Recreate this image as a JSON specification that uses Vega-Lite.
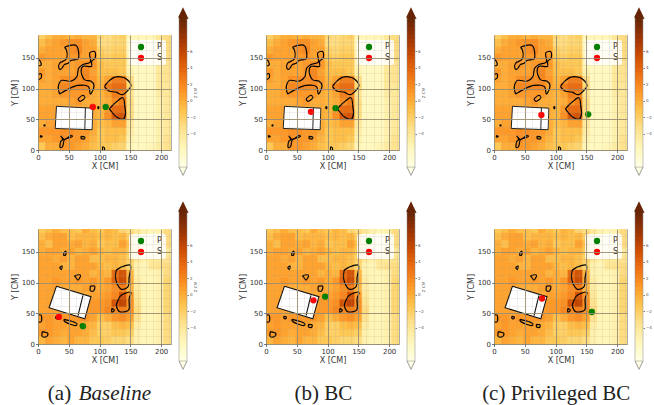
{"$schema":"https://vega.github.io/schema/vega-lite/v6.json","padding":{"left":10,"top":5,"right":0,"bottom":0},"background":"white","columns":6,"align":"each","bounds":"flush","spacing":{"row":79,"column":8},
"resolve":{"scale":{"x":"independent","y":"independent","fill":"independent","color":"independent"},"legend":{"color":"independent"}},
"config":{"view":{"stroke":null},"font":"DejaVu Sans","axis":{"labelFont":"DejaVu Sans","titleFont":"DejaVu Sans","labelFontSize":7,"titleFontSize":8,"titleFontWeight":"normal","labelColor":"#333","titleColor":"#333","domain":false,"tickSize":2.5,"tickColor":"#444","tickWidth":0.7,"labelPadding":1,"titlePadding":2,"labelOverlap":false,"labelBound":false,"labelFlush":false}},
"datasets":{
"heatT":[
{"x":6,"y":186,"z":-2},{"x":18,"y":186,"z":-1},{"x":30,"y":186,"z":0},{"x":42,"y":186,"z":0},{"x":54,"y":186,"z":-0.5},{"x":66,"y":186,"z":0},{"x":78,"y":186,"z":-0.5},{"x":90,"y":186,"z":-0.5},{"x":102,"y":186,"z":-2.5},{"x":114,"y":186,"z":-3},{"x":126,"y":186,"z":-2.5},{"x":138,"y":186,"z":-2},{"x":150,"y":186,"z":-5.5},{"x":162,"y":186,"z":-5.5},{"x":174,"y":186,"z":-5.5},{"x":186,"y":186,"z":-5.5},{"x":198,"y":186,"z":-4},{"x":210,"y":186,"z":-3},
{"x":6,"y":174,"z":-1},{"x":18,"y":174,"z":0},{"x":30,"y":174,"z":0.5},{"x":42,"y":174,"z":1},{"x":54,"y":174,"z":1.5},{"x":66,"y":174,"z":1.5},{"x":78,"y":174,"z":0.5},{"x":90,"y":174,"z":0},{"x":102,"y":174,"z":-3},{"x":114,"y":174,"z":-3},{"x":126,"y":174,"z":-2.5},{"x":138,"y":174,"z":-2.5},{"x":150,"y":174,"z":-6},{"x":162,"y":174,"z":-6},{"x":174,"y":174,"z":-6},{"x":186,"y":174,"z":-6},{"x":198,"y":174,"z":-4},{"x":210,"y":174,"z":-3},
{"x":6,"y":162,"z":0},{"x":18,"y":162,"z":0.5},{"x":30,"y":162,"z":0.5},{"x":42,"y":162,"z":0.5},{"x":54,"y":162,"z":1.5},{"x":66,"y":162,"z":2},{"x":78,"y":162,"z":0.5},{"x":90,"y":162,"z":0.5},{"x":102,"y":162,"z":-2},{"x":114,"y":162,"z":-2.5},{"x":126,"y":162,"z":-2},{"x":138,"y":162,"z":-2},{"x":150,"y":162,"z":-6},{"x":162,"y":162,"z":-6},{"x":174,"y":162,"z":-6},{"x":186,"y":162,"z":-6},{"x":198,"y":162,"z":-4},{"x":210,"y":162,"z":-3},
{"x":6,"y":150,"z":1},{"x":18,"y":150,"z":0.5},{"x":30,"y":150,"z":0.5},{"x":42,"y":150,"z":0.5},{"x":54,"y":150,"z":1},{"x":66,"y":150,"z":1},{"x":78,"y":150,"z":0.5},{"x":90,"y":150,"z":1},{"x":102,"y":150,"z":-1.5},{"x":114,"y":150,"z":-2},{"x":126,"y":150,"z":-1.5},{"x":138,"y":150,"z":-1.5},{"x":150,"y":150,"z":-5.5},{"x":162,"y":150,"z":-6},{"x":174,"y":150,"z":-6},{"x":186,"y":150,"z":-6},{"x":198,"y":150,"z":-4},{"x":210,"y":150,"z":-3},
{"x":6,"y":138,"z":0},{"x":18,"y":138,"z":0},{"x":30,"y":138,"z":0.5},{"x":42,"y":138,"z":1},{"x":54,"y":138,"z":0.5},{"x":66,"y":138,"z":1},{"x":78,"y":138,"z":1.5},{"x":90,"y":138,"z":1},{"x":102,"y":138,"z":-1},{"x":114,"y":138,"z":-1.5},{"x":126,"y":138,"z":-1.5},{"x":138,"y":138,"z":-1.5},{"x":150,"y":138,"z":-5.5},{"x":162,"y":138,"z":-6},{"x":174,"y":138,"z":-6},{"x":186,"y":138,"z":-6},{"x":198,"y":138,"z":-4},{"x":210,"y":138,"z":-3.5},
{"x":6,"y":126,"z":1},{"x":18,"y":126,"z":0},{"x":30,"y":126,"z":0.5},{"x":42,"y":126,"z":0.5},{"x":54,"y":126,"z":0.5},{"x":66,"y":126,"z":1},{"x":78,"y":126,"z":2},{"x":90,"y":126,"z":0.5},{"x":102,"y":126,"z":-1},{"x":114,"y":126,"z":-1},{"x":126,"y":126,"z":-1},{"x":138,"y":126,"z":-1.5},{"x":150,"y":126,"z":-5},{"x":162,"y":126,"z":-6},{"x":174,"y":126,"z":-6},{"x":186,"y":126,"z":-6},{"x":198,"y":126,"z":-4},{"x":210,"y":126,"z":-3.5},
{"x":6,"y":114,"z":0.5},{"x":18,"y":114,"z":0},{"x":30,"y":114,"z":0.5},{"x":42,"y":114,"z":1.5},{"x":54,"y":114,"z":1.5},{"x":66,"y":114,"z":1.5},{"x":78,"y":114,"z":2},{"x":90,"y":114,"z":1},{"x":102,"y":114,"z":-0.5},{"x":114,"y":114,"z":0.5},{"x":126,"y":114,"z":2.5},{"x":138,"y":114,"z":2.5},{"x":150,"y":114,"z":-3},{"x":162,"y":114,"z":-6},{"x":174,"y":114,"z":-6},{"x":186,"y":114,"z":-6},{"x":198,"y":114,"z":-4},{"x":210,"y":114,"z":-3.5},
{"x":6,"y":102,"z":0},{"x":18,"y":102,"z":0},{"x":30,"y":102,"z":0.5},{"x":42,"y":102,"z":2},{"x":54,"y":102,"z":2},{"x":66,"y":102,"z":2},{"x":78,"y":102,"z":2},{"x":90,"y":102,"z":0.5},{"x":102,"y":102,"z":0},{"x":114,"y":102,"z":2.5},{"x":126,"y":102,"z":3.5},{"x":138,"y":102,"z":3.5},{"x":150,"y":102,"z":-2.5},{"x":162,"y":102,"z":-6},{"x":174,"y":102,"z":-6},{"x":186,"y":102,"z":-6},{"x":198,"y":102,"z":-4},{"x":210,"y":102,"z":-4},
{"x":6,"y":90,"z":0},{"x":18,"y":90,"z":0},{"x":30,"y":90,"z":0.5},{"x":42,"y":90,"z":1},{"x":54,"y":90,"z":1},{"x":66,"y":90,"z":1},{"x":78,"y":90,"z":1},{"x":90,"y":90,"z":0},{"x":102,"y":90,"z":-0.5},{"x":114,"y":90,"z":0.5},{"x":126,"y":90,"z":2.5},{"x":138,"y":90,"z":2},{"x":150,"y":90,"z":-3.5},{"x":162,"y":90,"z":-6},{"x":174,"y":90,"z":-6},{"x":186,"y":90,"z":-6},{"x":198,"y":90,"z":-4.5},{"x":210,"y":90,"z":-4},
{"x":6,"y":78,"z":0},{"x":18,"y":78,"z":0},{"x":30,"y":78,"z":0},{"x":42,"y":78,"z":0},{"x":54,"y":78,"z":0.5},{"x":66,"y":78,"z":1},{"x":78,"y":78,"z":0},{"x":90,"y":78,"z":0},{"x":102,"y":78,"z":-0.5},{"x":114,"y":78,"z":0},{"x":126,"y":78,"z":1.5},{"x":138,"y":78,"z":2.5},{"x":150,"y":78,"z":-3},{"x":162,"y":78,"z":-6},{"x":174,"y":78,"z":-6},{"x":186,"y":78,"z":-6},{"x":198,"y":78,"z":-5},{"x":210,"y":78,"z":-4},
{"x":6,"y":66,"z":0.5},{"x":18,"y":66,"z":0.5},{"x":30,"y":66,"z":0.5},{"x":42,"y":66,"z":0},{"x":54,"y":66,"z":0},{"x":66,"y":66,"z":0},{"x":78,"y":66,"z":0},{"x":90,"y":66,"z":0},{"x":102,"y":66,"z":-0.5},{"x":114,"y":66,"z":1},{"x":126,"y":66,"z":3.5},{"x":138,"y":66,"z":3.5},{"x":150,"y":66,"z":-3},{"x":162,"y":66,"z":-6},{"x":174,"y":66,"z":-6},{"x":186,"y":66,"z":-6},{"x":198,"y":66,"z":-5},{"x":210,"y":66,"z":-4},
{"x":6,"y":54,"z":0.5},{"x":18,"y":54,"z":0.5},{"x":30,"y":54,"z":0.5},{"x":42,"y":54,"z":0},{"x":54,"y":54,"z":0},{"x":66,"y":54,"z":0},{"x":78,"y":54,"z":0},{"x":90,"y":54,"z":0},{"x":102,"y":54,"z":-0.5},{"x":114,"y":54,"z":1.5},{"x":126,"y":54,"z":4.5},{"x":138,"y":54,"z":5},{"x":150,"y":54,"z":-3},{"x":162,"y":54,"z":-6},{"x":174,"y":54,"z":-6},{"x":186,"y":54,"z":-6},{"x":198,"y":54,"z":-5},{"x":210,"y":54,"z":-4},
{"x":6,"y":42,"z":0},{"x":18,"y":42,"z":0.5},{"x":30,"y":42,"z":0.5},{"x":42,"y":42,"z":0},{"x":54,"y":42,"z":0},{"x":66,"y":42,"z":0.5},{"x":78,"y":42,"z":0.5},{"x":90,"y":42,"z":0},{"x":102,"y":42,"z":-1},{"x":114,"y":42,"z":-0.5},{"x":126,"y":42,"z":0.5},{"x":138,"y":42,"z":0.5},{"x":150,"y":42,"z":-4},{"x":162,"y":42,"z":-6},{"x":174,"y":42,"z":-6},{"x":186,"y":42,"z":-6},{"x":198,"y":42,"z":-5},{"x":210,"y":42,"z":-4},
{"x":6,"y":30,"z":1},{"x":18,"y":30,"z":1},{"x":30,"y":30,"z":1},{"x":42,"y":30,"z":1.5},{"x":54,"y":30,"z":1.5},{"x":66,"y":30,"z":1},{"x":78,"y":30,"z":1},{"x":90,"y":30,"z":0},{"x":102,"y":30,"z":-1.5},{"x":114,"y":30,"z":-1},{"x":126,"y":30,"z":-1},{"x":138,"y":30,"z":-1},{"x":150,"y":30,"z":-4.5},{"x":162,"y":30,"z":-6},{"x":174,"y":30,"z":-6},{"x":186,"y":30,"z":-6},{"x":198,"y":30,"z":-5},{"x":210,"y":30,"z":-4},
{"x":6,"y":18,"z":0.5},{"x":18,"y":18,"z":0.5},{"x":30,"y":18,"z":1},{"x":42,"y":18,"z":1.5},{"x":54,"y":18,"z":1},{"x":66,"y":18,"z":1},{"x":78,"y":18,"z":0.5},{"x":90,"y":18,"z":-0.5},{"x":102,"y":18,"z":-1.5},{"x":114,"y":18,"z":-1},{"x":126,"y":18,"z":-1},{"x":138,"y":18,"z":-1.5},{"x":150,"y":18,"z":-5},{"x":162,"y":18,"z":-6},{"x":174,"y":18,"z":-6},{"x":186,"y":18,"z":-6},{"x":198,"y":18,"z":-5},{"x":210,"y":18,"z":-3.5},
{"x":6,"y":6,"z":-1.5},{"x":18,"y":6,"z":0},{"x":30,"y":6,"z":0},{"x":42,"y":6,"z":1},{"x":54,"y":6,"z":1},{"x":66,"y":6,"z":0.5},{"x":78,"y":6,"z":0},{"x":90,"y":6,"z":-1},{"x":102,"y":6,"z":-1.5},{"x":114,"y":6,"z":-1.5},{"x":126,"y":6,"z":-2},{"x":138,"y":6,"z":-2.5},{"x":150,"y":6,"z":-5.5},{"x":162,"y":6,"z":-6},{"x":174,"y":6,"z":-6},{"x":186,"y":6,"z":-5.5},{"x":198,"y":6,"z":-4.5},{"x":210,"y":6,"z":-3.5}],
"heatB":[
{"x":6,"y":186,"z":-1.5},{"x":18,"y":186,"z":-1},{"x":30,"y":186,"z":0},{"x":42,"y":186,"z":-1},{"x":54,"y":186,"z":-1},{"x":66,"y":186,"z":-1.5},{"x":78,"y":186,"z":0},{"x":90,"y":186,"z":-1},{"x":102,"y":186,"z":-1.5},{"x":114,"y":186,"z":-0.5},{"x":126,"y":186,"z":-1},{"x":138,"y":186,"z":-2.5},{"x":150,"y":186,"z":-3},{"x":162,"y":186,"z":-4},{"x":174,"y":186,"z":-5},{"x":186,"y":186,"z":-5.5},{"x":198,"y":186,"z":-5},{"x":210,"y":186,"z":-3},
{"x":6,"y":174,"z":-1},{"x":18,"y":174,"z":0},{"x":30,"y":174,"z":0.5},{"x":42,"y":174,"z":0.5},{"x":54,"y":174,"z":-1},{"x":66,"y":174,"z":-0.5},{"x":78,"y":174,"z":-0.5},{"x":90,"y":174,"z":-0.5},{"x":102,"y":174,"z":-1},{"x":114,"y":174,"z":-0.5},{"x":126,"y":174,"z":-1},{"x":138,"y":174,"z":-0.5},{"x":150,"y":174,"z":-2},{"x":162,"y":174,"z":-4},{"x":174,"y":174,"z":-5},{"x":186,"y":174,"z":-6},{"x":198,"y":174,"z":-6},{"x":210,"y":174,"z":-3},
{"x":6,"y":162,"z":0},{"x":18,"y":162,"z":-1},{"x":30,"y":162,"z":0.5},{"x":42,"y":162,"z":0.5},{"x":54,"y":162,"z":0},{"x":66,"y":162,"z":0.5},{"x":78,"y":162,"z":-0.5},{"x":90,"y":162,"z":0},{"x":102,"y":162,"z":-1.5},{"x":114,"y":162,"z":-1},{"x":126,"y":162,"z":-1},{"x":138,"y":162,"z":0.5},{"x":150,"y":162,"z":-1},{"x":162,"y":162,"z":-4},{"x":174,"y":162,"z":-5},{"x":186,"y":162,"z":-6},{"x":198,"y":162,"z":-5.5},{"x":210,"y":162,"z":-3},
{"x":6,"y":150,"z":0},{"x":18,"y":150,"z":0.5},{"x":30,"y":150,"z":0.5},{"x":42,"y":150,"z":0},{"x":54,"y":150,"z":0.5},{"x":66,"y":150,"z":-0.5},{"x":78,"y":150,"z":0},{"x":90,"y":150,"z":0.5},{"x":102,"y":150,"z":-0.5},{"x":114,"y":150,"z":-1},{"x":126,"y":150,"z":-0.5},{"x":138,"y":150,"z":-0.5},{"x":150,"y":150,"z":-1.5},{"x":162,"y":150,"z":-3},{"x":174,"y":150,"z":-5},{"x":186,"y":150,"z":-6},{"x":198,"y":150,"z":-5.5},{"x":210,"y":150,"z":-4},
{"x":6,"y":138,"z":0.5},{"x":18,"y":138,"z":0.5},{"x":30,"y":138,"z":0},{"x":42,"y":138,"z":0.5},{"x":54,"y":138,"z":-0.5},{"x":66,"y":138,"z":0.5},{"x":78,"y":138,"z":0.5},{"x":90,"y":138,"z":-1},{"x":102,"y":138,"z":-1},{"x":114,"y":138,"z":-0.5},{"x":126,"y":138,"z":-0.5},{"x":138,"y":138,"z":-1},{"x":150,"y":138,"z":-2},{"x":162,"y":138,"z":-4},{"x":174,"y":138,"z":-5},{"x":186,"y":138,"z":-4},{"x":198,"y":138,"z":-4},{"x":210,"y":138,"z":-3.5},
{"x":6,"y":126,"z":0.5},{"x":18,"y":126,"z":0.5},{"x":30,"y":126,"z":0.5},{"x":42,"y":126,"z":-0.5},{"x":54,"y":126,"z":-0.5},{"x":66,"y":126,"z":0.5},{"x":78,"y":126,"z":0.5},{"x":90,"y":126,"z":0.5},{"x":102,"y":126,"z":-0.5},{"x":114,"y":126,"z":-1},{"x":126,"y":126,"z":-0.5},{"x":138,"y":126,"z":-1},{"x":150,"y":126,"z":-2.5},{"x":162,"y":126,"z":-5},{"x":174,"y":126,"z":-5.5},{"x":186,"y":126,"z":-4},{"x":198,"y":126,"z":-3.5},{"x":210,"y":126,"z":-3},
{"x":6,"y":114,"z":0.5},{"x":18,"y":114,"z":0.5},{"x":30,"y":114,"z":0.5},{"x":42,"y":114,"z":0.5},{"x":54,"y":114,"z":0.5},{"x":66,"y":114,"z":0.5},{"x":78,"y":114,"z":0.5},{"x":90,"y":114,"z":-0.5},{"x":102,"y":114,"z":0},{"x":114,"y":114,"z":-0.5},{"x":126,"y":114,"z":3.5},{"x":138,"y":114,"z":5},{"x":150,"y":114,"z":-0.5},{"x":162,"y":114,"z":-5},{"x":174,"y":114,"z":-5.5},{"x":186,"y":114,"z":-5.5},{"x":198,"y":114,"z":-5},{"x":210,"y":114,"z":-3},
{"x":6,"y":102,"z":0.5},{"x":18,"y":102,"z":0.5},{"x":30,"y":102,"z":1},{"x":42,"y":102,"z":0.5},{"x":54,"y":102,"z":0.5},{"x":66,"y":102,"z":1},{"x":78,"y":102,"z":0.5},{"x":90,"y":102,"z":1},{"x":102,"y":102,"z":0},{"x":114,"y":102,"z":1},{"x":126,"y":102,"z":4},{"x":138,"y":102,"z":5.5},{"x":150,"y":102,"z":0},{"x":162,"y":102,"z":-4.5},{"x":174,"y":102,"z":-5.5},{"x":186,"y":102,"z":-5.5},{"x":198,"y":102,"z":-5},{"x":210,"y":102,"z":-2.5},
{"x":6,"y":90,"z":0.5},{"x":18,"y":90,"z":0.5},{"x":30,"y":90,"z":0.5},{"x":42,"y":90,"z":0},{"x":54,"y":90,"z":0},{"x":66,"y":90,"z":0},{"x":78,"y":90,"z":0.5},{"x":90,"y":90,"z":0.5},{"x":102,"y":90,"z":0},{"x":114,"y":90,"z":0.5},{"x":126,"y":90,"z":1.5},{"x":138,"y":90,"z":2.5},{"x":150,"y":90,"z":-0.5},{"x":162,"y":90,"z":-4.5},{"x":174,"y":90,"z":-5.5},{"x":186,"y":90,"z":-5.5},{"x":198,"y":90,"z":-5},{"x":210,"y":90,"z":-2.5},
{"x":6,"y":78,"z":0.5},{"x":18,"y":78,"z":0.5},{"x":30,"y":78,"z":0},{"x":42,"y":78,"z":0},{"x":54,"y":78,"z":0},{"x":66,"y":78,"z":0},{"x":78,"y":78,"z":0},{"x":90,"y":78,"z":0.5},{"x":102,"y":78,"z":0.5},{"x":114,"y":78,"z":1},{"x":126,"y":78,"z":2},{"x":138,"y":78,"z":5},{"x":150,"y":78,"z":1},{"x":162,"y":78,"z":-4},{"x":174,"y":78,"z":-5.5},{"x":186,"y":78,"z":-5.5},{"x":198,"y":78,"z":-5},{"x":210,"y":78,"z":-2.5},
{"x":6,"y":66,"z":0.5},{"x":18,"y":66,"z":0.5},{"x":30,"y":66,"z":0},{"x":42,"y":66,"z":0},{"x":54,"y":66,"z":0},{"x":66,"y":66,"z":0},{"x":78,"y":66,"z":0},{"x":90,"y":66,"z":1},{"x":102,"y":66,"z":1},{"x":114,"y":66,"z":1.5},{"x":126,"y":66,"z":5},{"x":138,"y":66,"z":6},{"x":150,"y":66,"z":1.5},{"x":162,"y":66,"z":-3.5},{"x":174,"y":66,"z":-5.5},{"x":186,"y":66,"z":-5.5},{"x":198,"y":66,"z":-5},{"x":210,"y":66,"z":-2.5},
{"x":6,"y":54,"z":0.5},{"x":18,"y":54,"z":0.5},{"x":30,"y":54,"z":0.5},{"x":42,"y":54,"z":0},{"x":54,"y":54,"z":0},{"x":66,"y":54,"z":0},{"x":78,"y":54,"z":0.5},{"x":90,"y":54,"z":1},{"x":102,"y":54,"z":1},{"x":114,"y":54,"z":2},{"x":126,"y":54,"z":2},{"x":138,"y":54,"z":2.5},{"x":150,"y":54,"z":1.5},{"x":162,"y":54,"z":-3},{"x":174,"y":54,"z":-5.5},{"x":186,"y":54,"z":-5.5},{"x":198,"y":54,"z":-5},{"x":210,"y":54,"z":-2.5},
{"x":6,"y":42,"z":1},{"x":18,"y":42,"z":1},{"x":30,"y":42,"z":0.5},{"x":42,"y":42,"z":1},{"x":54,"y":42,"z":1},{"x":66,"y":42,"z":1},{"x":78,"y":42,"z":1},{"x":90,"y":42,"z":0.5},{"x":102,"y":42,"z":-1},{"x":114,"y":42,"z":0},{"x":126,"y":42,"z":1},{"x":138,"y":42,"z":1.5},{"x":150,"y":42,"z":0.5},{"x":162,"y":42,"z":-3.5},{"x":174,"y":42,"z":-5.5},{"x":186,"y":42,"z":-5.5},{"x":198,"y":42,"z":-5},{"x":210,"y":42,"z":-3},
{"x":6,"y":30,"z":0.5},{"x":18,"y":30,"z":1},{"x":30,"y":30,"z":0.5},{"x":42,"y":30,"z":0.5},{"x":54,"y":30,"z":0.5},{"x":66,"y":30,"z":0.5},{"x":78,"y":30,"z":0},{"x":90,"y":30,"z":-0.5},{"x":102,"y":30,"z":-2},{"x":114,"y":30,"z":-2},{"x":126,"y":30,"z":-1},{"x":138,"y":30,"z":-0.5},{"x":150,"y":30,"z":-1},{"x":162,"y":30,"z":-4.5},{"x":174,"y":30,"z":-5.5},{"x":186,"y":30,"z":-5.5},{"x":198,"y":30,"z":-5},{"x":210,"y":30,"z":-3},
{"x":6,"y":18,"z":1},{"x":18,"y":18,"z":1},{"x":30,"y":18,"z":0.5},{"x":42,"y":18,"z":0},{"x":54,"y":18,"z":0.5},{"x":66,"y":18,"z":0.5},{"x":78,"y":18,"z":0},{"x":90,"y":18,"z":-1},{"x":102,"y":18,"z":-2},{"x":114,"y":18,"z":-2},{"x":126,"y":18,"z":-1.5},{"x":138,"y":18,"z":-1.5},{"x":150,"y":18,"z":-2},{"x":162,"y":18,"z":-5},{"x":174,"y":18,"z":-5.5},{"x":186,"y":18,"z":-5.5},{"x":198,"y":18,"z":-5},{"x":210,"y":18,"z":-3},
{"x":6,"y":6,"z":-0.5},{"x":18,"y":6,"z":0.5},{"x":30,"y":6,"z":0},{"x":42,"y":6,"z":-0.5},{"x":54,"y":6,"z":0.5},{"x":66,"y":6,"z":-0.5},{"x":78,"y":6,"z":-0.5},{"x":90,"y":6,"z":-1.5},{"x":102,"y":6,"z":-1.5},{"x":114,"y":6,"z":-2},{"x":126,"y":6,"z":-2.5},{"x":138,"y":6,"z":-2.5},{"x":150,"y":6,"z":-3},{"x":162,"y":6,"z":-5},{"x":174,"y":6,"z":-5.5},{"x":186,"y":6,"z":-5.5},{"x":198,"y":6,"z":-5},{"x":210,"y":6,"z":-3}],
"ctrT":[
{"i":"a","o":0,"x":108,"y":103},{"i":"a","o":1,"x":113,"y":110},{"i":"a","o":2,"x":124,"y":118},{"i":"a","o":3,"x":134,"y":119},{"i":"a","o":4,"x":143,"y":116},{"i":"a","o":5,"x":151,"y":105},{"i":"a","o":6,"x":146,"y":97},{"i":"a","o":7,"x":137,"y":90},{"i":"a","o":8,"x":127,"y":94},{"i":"a","o":9,"x":115,"y":96},{"i":"a","o":10,"x":108,"y":103},
{"i":"b","o":0,"x":116,"y":67},{"i":"b","o":1,"x":127,"y":78},{"i":"b","o":2,"x":138,"y":85},{"i":"b","o":3,"x":141,"y":71},{"i":"b","o":4,"x":142,"y":58},{"i":"b","o":5,"x":138,"y":50},{"i":"b","o":6,"x":127,"y":54},{"i":"b","o":7,"x":119,"y":63},{"i":"b","o":8,"x":116,"y":67},
{"i":"c","o":0,"x":35,"y":91},{"i":"c","o":1,"x":33,"y":103},{"i":"c","o":2,"x":38,"y":113},{"i":"c","o":3,"x":54,"y":112},{"i":"c","o":4,"x":63,"y":119},{"i":"c","o":5,"x":66,"y":133},{"i":"c","o":6,"x":73,"y":139},{"i":"c","o":7,"x":85,"y":143},{"i":"c","o":8,"x":84,"y":158},{"i":"c","o":9,"x":92,"y":160},{"i":"c","o":10,"x":93,"y":150},{"i":"c","o":11,"x":87,"y":144},{"i":"c","o":12,"x":87,"y":136},{"i":"c","o":13,"x":73,"y":136},{"i":"c","o":14,"x":70,"y":128},{"i":"c","o":15,"x":76,"y":114},{"i":"c","o":16,"x":86,"y":112},{"i":"c","o":17,"x":91,"y":105},{"i":"c","o":18,"x":85,"y":91},{"i":"c","o":19,"x":82,"y":103},{"i":"c","o":20,"x":65,"y":105},{"i":"c","o":21,"x":49,"y":99},{"i":"c","o":22,"x":35,"y":91},
{"i":"d","o":0,"x":43,"y":167},{"i":"d","o":1,"x":62,"y":170},{"i":"d","o":2,"x":65,"y":148},{"i":"d","o":3,"x":54,"y":146},{"i":"d","o":4,"x":49,"y":141},{"i":"d","o":5,"x":43,"y":139},{"i":"d","o":6,"x":37,"y":131},{"i":"d","o":7,"x":34,"y":133},{"i":"d","o":8,"x":35,"y":141},{"i":"d","o":9,"x":46,"y":148},{"i":"d","o":10,"x":46,"y":163},{"i":"d","o":11,"x":43,"y":167},
{"i":"e","o":0,"x":65,"y":83},{"i":"e","o":1,"x":73,"y":89},{"i":"e","o":2,"x":76,"y":85},{"i":"e","o":3,"x":68,"y":79},{"i":"e","o":4,"x":65,"y":83},
{"i":"f","o":0,"x":0,"y":148},{"i":"f","o":1,"x":4,"y":144},{"i":"f","o":2,"x":5,"y":138},{"i":"f","o":3,"x":0,"y":137},
{"i":"g","o":0,"x":0,"y":123},{"i":"g","o":1,"x":5,"y":124},{"i":"g","o":2,"x":5,"y":117},{"i":"g","o":3,"x":0,"y":114},
{"i":"h","o":0,"x":9,"y":40},{"i":"h","o":1,"x":11,"y":41},{"i":"h","o":2,"x":11,"y":39},{"i":"h","o":3,"x":9,"y":40},
{"i":"j","o":0,"x":4,"y":24},{"i":"j","o":1,"x":7,"y":22},{"i":"j","o":2,"x":4,"y":21},{"i":"j","o":3,"x":4,"y":24},
{"i":"k","o":0,"x":70,"y":22},{"i":"k","o":1,"x":76,"y":21},{"i":"k","o":2,"x":75,"y":18},{"i":"k","o":3,"x":70,"y":19},{"i":"k","o":4,"x":70,"y":22},
{"i":"l","o":0,"x":37,"y":23},{"i":"l","o":1,"x":43,"y":17},{"i":"l","o":2,"x":54,"y":24},{"i":"l","o":3,"x":56,"y":22},{"i":"l","o":4,"x":43,"y":17},{"i":"l","o":5,"x":40,"y":6},{"i":"l","o":6,"x":36,"y":4},{"i":"l","o":7,"x":37,"y":14},{"i":"l","o":8,"x":40,"y":17},{"i":"l","o":9,"x":37,"y":23},
{"i":"m","o":0,"x":105,"y":0},{"i":"m","o":1,"x":105,"y":5},{"i":"m","o":2,"x":108,"y":3},{"i":"m","o":3,"x":108,"y":0},
{"i":"n","o":0,"x":98,"y":71},{"i":"n","o":1,"x":99,"y":69},{"i":"n","o":2,"x":98,"y":67},{"i":"n","o":3,"x":97,"y":69},{"i":"n","o":4,"x":98,"y":71}],
"ctrB":[
{"i":"a","o":0,"x":127,"y":120},{"i":"a","o":1,"x":135,"y":125},{"i":"a","o":2,"x":150,"y":128},{"i":"a","o":3,"x":148,"y":109},{"i":"a","o":4,"x":146,"y":93},{"i":"a","o":5,"x":135,"y":89},{"i":"a","o":6,"x":126,"y":106},{"i":"a","o":7,"x":127,"y":120},
{"i":"b","o":0,"x":127,"y":63},{"i":"b","o":1,"x":135,"y":79},{"i":"b","o":2,"x":151,"y":84},{"i":"b","o":3,"x":148,"y":74},{"i":"b","o":4,"x":147,"y":55},{"i":"b","o":5,"x":132,"y":53},{"i":"b","o":6,"x":127,"y":63},
{"i":"c","o":0,"x":42,"y":148},{"i":"c","o":1,"x":45,"y":151},{"i":"c","o":2,"x":45,"y":145},{"i":"c","o":3,"x":42,"y":144},{"i":"c","o":4,"x":42,"y":148},
{"i":"d","o":0,"x":35,"y":124},{"i":"d","o":1,"x":39,"y":127},{"i":"d","o":2,"x":38,"y":121},{"i":"d","o":3,"x":35,"y":124},
{"i":"e","o":0,"x":59,"y":111},{"i":"e","o":1,"x":69,"y":112},{"i":"e","o":2,"x":65,"y":104},{"i":"e","o":3,"x":61,"y":109},{"i":"e","o":4,"x":59,"y":111},
{"i":"f","o":0,"x":85,"y":94},{"i":"f","o":1,"x":92,"y":94},{"i":"f","o":2,"x":90,"y":86},{"i":"f","o":3,"x":85,"y":87},{"i":"f","o":4,"x":85,"y":94},
{"i":"g","o":0,"x":120,"y":58},{"i":"g","o":1,"x":124,"y":55},{"i":"g","o":2,"x":120,"y":52},{"i":"g","o":3,"x":120,"y":58},
{"i":"h","o":0,"x":0,"y":47},{"i":"h","o":1,"x":5,"y":47},{"i":"h","o":2,"x":5,"y":36},{"i":"h","o":3,"x":0,"y":36},
{"i":"j","o":0,"x":42,"y":40},{"i":"j","o":1,"x":63,"y":33},{"i":"j","o":2,"x":62,"y":30},{"i":"j","o":3,"x":43,"y":37},{"i":"j","o":4,"x":42,"y":40},
{"i":"k","o":0,"x":7,"y":20},{"i":"k","o":1,"x":16,"y":17},{"i":"k","o":2,"x":14,"y":12},{"i":"k","o":3,"x":7,"y":12},{"i":"k","o":4,"x":7,"y":20},
{"i":"l","o":0,"x":29,"y":45},{"i":"l","o":1,"x":33,"y":44},{"i":"l","o":2,"x":32,"y":41},{"i":"l","o":3,"x":29,"y":42},{"i":"l","o":4,"x":29,"y":45},
{"i":"m","o":0,"x":69,"y":32},{"i":"m","o":1,"x":75,"y":31},{"i":"m","o":2,"x":74,"y":27},{"i":"m","o":3,"x":69,"y":28},{"i":"m","o":4,"x":69,"y":32}],
"boxT":[{"i":"a","o":0,"x":30,"y":71},{"i":"a","o":1,"x":89,"y":68},{"i":"a","o":2,"x":88,"y":33},{"i":"a","o":3,"x":28,"y":35},{"i":"a","o":4,"x":30,"y":71},{"i":"b","o":0,"x":77,"y":69},{"i":"b","o":1,"x":76,"y":33}],
"boxB":[{"i":"a","o":0,"x":30,"y":94},{"i":"a","o":1,"x":86,"y":77},{"i":"a","o":2,"x":76,"y":41},{"i":"a","o":3,"x":18,"y":59},{"i":"a","o":4,"x":30,"y":94},{"i":"b","o":0,"x":73,"y":79},{"i":"b","o":1,"x":65,"y":46}],
"cb":[{"x":0.5,"y":-7.75,"z":-7.75},{"x":0.5,"y":-7.25,"z":-7.25},{"x":0.5,"y":-6.75,"z":-6.75},{"x":0.5,"y":-6.25,"z":-6.25},{"x":0.5,"y":-5.75,"z":-5.75},{"x":0.5,"y":-5.25,"z":-5.25},{"x":0.5,"y":-4.75,"z":-4.75},{"x":0.5,"y":-4.25,"z":-4.25},{"x":0.5,"y":-3.75,"z":-3.75},{"x":0.5,"y":-3.25,"z":-3.25},{"x":0.5,"y":-2.75,"z":-2.75},{"x":0.5,"y":-2.25,"z":-2.25},{"x":0.5,"y":-1.75,"z":-1.75},{"x":0.5,"y":-1.25,"z":-1.25},{"x":0.5,"y":-0.75,"z":-0.75},{"x":0.5,"y":-0.25,"z":-0.25},{"x":0.5,"y":0.25,"z":0.25},{"x":0.5,"y":0.75,"z":0.75},{"x":0.5,"y":1.25,"z":1.25},{"x":0.5,"y":1.75,"z":1.75},{"x":0.5,"y":2.25,"z":2.25},{"x":0.5,"y":2.75,"z":2.75},{"x":0.5,"y":3.25,"z":3.25},{"x":0.5,"y":3.75,"z":3.75},{"x":0.5,"y":4.25,"z":4.25},{"x":0.5,"y":4.75,"z":4.75},{"x":0.5,"y":5.25,"z":5.25},{"x":0.5,"y":5.75,"z":5.75},{"x":0.5,"y":6.25,"z":6.25},{"x":0.5,"y":6.75,"z":6.75},{"x":0.5,"y":7.25,"z":7.25},{"x":0.5,"y":7.75,"z":7.75},{"x":0.5,"y":8.25,"z":8.25},{"x":0.5,"y":8.75,"z":8.75},{"x":0.5,"y":9.25,"z":9.25},{"x":0.5,"y":9.75,"z":9.75}],
"cbTop":[{"o":0,"x":0,"y":10},{"o":1,"x":0.5,"y":11},{"o":2,"x":1,"y":10},{"o":3,"x":0,"y":10}],
"cbBot":[{"o":0,"x":0,"y":-8},{"o":1,"x":0.5,"y":-9},{"o":2,"x":1,"y":-8},{"o":3,"x":0,"y":-8}],
"cbOut":[{"o":0,"x":0,"y":10},{"o":1,"x":0,"y":-8},{"o":2,"x":0.5,"y":-9},{"o":3,"x":1,"y":-8},{"o":4,"x":1,"y":10}]
},
"concat":[
{"width":133,"height":115,"view":{"stroke":"#aaa"},"encoding":{"x":{"field":"x","type":"quantitative","scale":{"domain":[0,216],"nice":false},"axis":{"title":"X [CM]","values":[0,12.5,25,37.5,50,62.5,75,87.5,100,112.5,125,137.5,150,162.5,175,187.5,200,212.5],"labelExpr":"datum.value%50==0?datum.value:''","gridColor":{"condition":{"test":"datum.value%50==0","value":"#9a8c70"},"value":"#a89c80"},"gridOpacity":{"condition":{"test":"datum.value%50==0","value":1},"value":0.3},"gridWidth":{"condition":{"test":"datum.value%50==0","value":0.9},"value":0.5},"tickOpacity":{"condition":{"test":"datum.value%50==0","value":1},"value":0},"zindex":1}},"y":{"field":"y","type":"quantitative","scale":{"domain":[0,187],"nice":false},"axis":{"title":"Y [CM]","values":[0,12.5,25,37.5,50,62.5,75,87.5,100,112.5,125,137.5,150,162.5,175],"labelExpr":"datum.value%50==0?datum.value:''","gridColor":{"condition":{"test":"datum.value%50==0","value":"#9a8c70"},"value":"#a89c80"},"gridOpacity":{"condition":{"test":"datum.value%50==0","value":1},"value":0.3},"gridWidth":{"condition":{"test":"datum.value%50==0","value":0.9},"value":0.5},"tickOpacity":{"condition":{"test":"datum.value%50==0","value":1},"value":0},"zindex":1}}},
"layer":[
{"data":{"name":"heatT"},"mark":{"type":"rect","width":8,"height":8,"clip":true},"encoding":{"fill":{"field":"z","type":"quantitative","scale":{"domain":[-8,-5.75,-3.5,-1.25,1,3.25,5.5,7.75,10],"range":["#ffffe5","#fff7bc","#fee391","#fec44f","#fe9929","#ec7014","#cc4c02","#993404","#662506"]},"legend":null}}},
{"data":{"name":"boxT"},"mark":{"type":"line","fill":"#ffffff","stroke":"#222","strokeWidth":1},"encoding":{"detail":{"field":"i"},"order":{"field":"o"}}},
{"data":{"name":"ctrT"},"mark":{"type":"line","stroke":"#000","strokeWidth":1.2,"interpolate":"catmull-rom"},"encoding":{"detail":{"field":"i"},"order":{"field":"o"}}},
{"data":{"values":[{"k":"P","x":110,"y":70},{"k":"S","x":89,"y":70}]},"mark":{"type":"point","filled":true,"size":40,"opacity":1},"encoding":{"color":{"field":"k","type":"nominal","scale":{"domain":["P","S"],"range":["#008000","#ff0000"]},"legend":{"title":null,"orient":"top-right","offset":5,"fillColor":"rgba(255,255,255,0.85)","cornerRadius":2,"padding":3,"labelFontSize":8,"labelColor":"#333","symbolSize":40,"symbolType":"circle","labelOffset":12,"symbolOffset":5,"rowPadding":3,"labelExpr":"datum.label+'  '"}}}}
]},
{"width":79,"height":115,"encoding":{"x":{"field":"x","type":"quantitative","scale":{"domain":[0,9.875],"nice":false},"axis":null},"y":{"field":"y","type":"quantitative","scale":{"domain":[-5.94,7.94],"nice":false},"axis":{"orient":"right","offset":-71,"title":"Z CM","titleAngle":270,"titleFontSize":4,"titlePadding":2,"labelFontSize":4,"tickSize":1.5,"labelPadding":1,"labelColor":"#555","titleColor":"#555","grid":false,"values":[-8,-6,-4,-2,0,2,4,6,8,10]}}},
"layer":[
{"data":{"name":"cb"},"mark":{"type":"rect","width":8,"height":4.8},"encoding":{"fill":{"field":"z","type":"quantitative","scale":{"domain":[-8,-5.75,-3.5,-1.25,1,3.25,5.5,7.75,10],"range":["#ffffe5","#fff7bc","#fee391","#fec44f","#fe9929","#ec7014","#cc4c02","#993404","#662506"]},"legend":null}}},
{"data":{"name":"cbTop"},"mark":{"type":"line","fill":"#662506","stroke":"#662506"},"encoding":{"order":{"field":"o"}}},
{"data":{"name":"cbBot"},"mark":{"type":"line","fill":"#ffffe5","stroke":"#888","strokeWidth":0.5},"encoding":{"order":{"field":"o"}}},
{"data":{"name":"cbOut"},"mark":{"type":"line","stroke":"#888","strokeWidth":0.5},"encoding":{"order":{"field":"o"}}}
]},
{"width":133,"height":115,"view":{"stroke":"#aaa"},"encoding":{"x":{"field":"x","type":"quantitative","scale":{"domain":[0,216],"nice":false},"axis":{"title":"X [CM]","values":[0,12.5,25,37.5,50,62.5,75,87.5,100,112.5,125,137.5,150,162.5,175,187.5,200,212.5],"labelExpr":"datum.value%50==0?datum.value:''","gridColor":{"condition":{"test":"datum.value%50==0","value":"#9a8c70"},"value":"#a89c80"},"gridOpacity":{"condition":{"test":"datum.value%50==0","value":1},"value":0.3},"gridWidth":{"condition":{"test":"datum.value%50==0","value":0.9},"value":0.5},"tickOpacity":{"condition":{"test":"datum.value%50==0","value":1},"value":0},"zindex":1}},"y":{"field":"y","type":"quantitative","scale":{"domain":[0,187],"nice":false},"axis":{"title":"Y [CM]","values":[0,12.5,25,37.5,50,62.5,75,87.5,100,112.5,125,137.5,150,162.5,175],"labelExpr":"datum.value%50==0?datum.value:''","gridColor":{"condition":{"test":"datum.value%50==0","value":"#9a8c70"},"value":"#a89c80"},"gridOpacity":{"condition":{"test":"datum.value%50==0","value":1},"value":0.3},"gridWidth":{"condition":{"test":"datum.value%50==0","value":0.9},"value":0.5},"tickOpacity":{"condition":{"test":"datum.value%50==0","value":1},"value":0},"zindex":1}}},
"layer":[
{"data":{"name":"heatT"},"mark":{"type":"rect","width":8,"height":8,"clip":true},"encoding":{"fill":{"field":"z","type":"quantitative","scale":{"domain":[-8,-5.75,-3.5,-1.25,1,3.25,5.5,7.75,10],"range":["#ffffe5","#fff7bc","#fee391","#fec44f","#fe9929","#ec7014","#cc4c02","#993404","#662506"]},"legend":null}}},
{"data":{"name":"boxT"},"mark":{"type":"line","fill":"#ffffff","stroke":"#222","strokeWidth":1},"encoding":{"detail":{"field":"i"},"order":{"field":"o"}}},
{"data":{"name":"ctrT"},"mark":{"type":"line","stroke":"#000","strokeWidth":1.2,"interpolate":"catmull-rom"},"encoding":{"detail":{"field":"i"},"order":{"field":"o"}}},
{"data":{"values":[{"k":"P","x":113,"y":68},{"k":"S","x":73,"y":62}]},"mark":{"type":"point","filled":true,"size":40,"opacity":1},"encoding":{"color":{"field":"k","type":"nominal","scale":{"domain":["P","S"],"range":["#008000","#ff0000"]},"legend":{"title":null,"orient":"top-right","offset":5,"fillColor":"rgba(255,255,255,0.85)","cornerRadius":2,"padding":3,"labelFontSize":8,"labelColor":"#333","symbolSize":40,"symbolType":"circle","labelOffset":12,"symbolOffset":5,"rowPadding":3,"labelExpr":"datum.label+'  '"}}}}
]},
{"width":79,"height":115,"encoding":{"x":{"field":"x","type":"quantitative","scale":{"domain":[0,9.875],"nice":false},"axis":null},"y":{"field":"y","type":"quantitative","scale":{"domain":[-5.94,7.94],"nice":false},"axis":{"orient":"right","offset":-71,"title":"Z CM","titleAngle":270,"titleFontSize":4,"titlePadding":2,"labelFontSize":4,"tickSize":1.5,"labelPadding":1,"labelColor":"#555","titleColor":"#555","grid":false,"values":[-8,-6,-4,-2,0,2,4,6,8,10]}}},
"layer":[
{"data":{"name":"cb"},"mark":{"type":"rect","width":8,"height":4.8},"encoding":{"fill":{"field":"z","type":"quantitative","scale":{"domain":[-8,-5.75,-3.5,-1.25,1,3.25,5.5,7.75,10],"range":["#ffffe5","#fff7bc","#fee391","#fec44f","#fe9929","#ec7014","#cc4c02","#993404","#662506"]},"legend":null}}},
{"data":{"name":"cbTop"},"mark":{"type":"line","fill":"#662506","stroke":"#662506"},"encoding":{"order":{"field":"o"}}},
{"data":{"name":"cbBot"},"mark":{"type":"line","fill":"#ffffe5","stroke":"#888","strokeWidth":0.5},"encoding":{"order":{"field":"o"}}},
{"data":{"name":"cbOut"},"mark":{"type":"line","stroke":"#888","strokeWidth":0.5},"encoding":{"order":{"field":"o"}}}
]},
{"width":133,"height":115,"view":{"stroke":"#aaa"},"encoding":{"x":{"field":"x","type":"quantitative","scale":{"domain":[0,216],"nice":false},"axis":{"title":"X [CM]","values":[0,12.5,25,37.5,50,62.5,75,87.5,100,112.5,125,137.5,150,162.5,175,187.5,200,212.5],"labelExpr":"datum.value%50==0?datum.value:''","gridColor":{"condition":{"test":"datum.value%50==0","value":"#9a8c70"},"value":"#a89c80"},"gridOpacity":{"condition":{"test":"datum.value%50==0","value":1},"value":0.3},"gridWidth":{"condition":{"test":"datum.value%50==0","value":0.9},"value":0.5},"tickOpacity":{"condition":{"test":"datum.value%50==0","value":1},"value":0},"zindex":1}},"y":{"field":"y","type":"quantitative","scale":{"domain":[0,187],"nice":false},"axis":{"title":"Y [CM]","values":[0,12.5,25,37.5,50,62.5,75,87.5,100,112.5,125,137.5,150,162.5,175],"labelExpr":"datum.value%50==0?datum.value:''","gridColor":{"condition":{"test":"datum.value%50==0","value":"#9a8c70"},"value":"#a89c80"},"gridOpacity":{"condition":{"test":"datum.value%50==0","value":1},"value":0.3},"gridWidth":{"condition":{"test":"datum.value%50==0","value":0.9},"value":0.5},"tickOpacity":{"condition":{"test":"datum.value%50==0","value":1},"value":0},"zindex":1}}},
"layer":[
{"data":{"name":"heatT"},"mark":{"type":"rect","width":8,"height":8,"clip":true},"encoding":{"fill":{"field":"z","type":"quantitative","scale":{"domain":[-8,-5.75,-3.5,-1.25,1,3.25,5.5,7.75,10],"range":["#ffffe5","#fff7bc","#fee391","#fec44f","#fe9929","#ec7014","#cc4c02","#993404","#662506"]},"legend":null}}},
{"data":{"name":"boxT"},"mark":{"type":"line","fill":"#ffffff","stroke":"#222","strokeWidth":1},"encoding":{"detail":{"field":"i"},"order":{"field":"o"}}},
{"data":{"name":"ctrT"},"mark":{"type":"line","stroke":"#000","strokeWidth":1.2,"interpolate":"catmull-rom"},"encoding":{"detail":{"field":"i"},"order":{"field":"o"}}},
{"data":{"values":[{"k":"P","x":153,"y":58},{"k":"S","x":77,"y":57}]},"mark":{"type":"point","filled":true,"size":40,"opacity":1},"encoding":{"color":{"field":"k","type":"nominal","scale":{"domain":["P","S"],"range":["#008000","#ff0000"]},"legend":{"title":null,"orient":"top-right","offset":5,"fillColor":"rgba(255,255,255,0.85)","cornerRadius":2,"padding":3,"labelFontSize":8,"labelColor":"#333","symbolSize":40,"symbolType":"circle","labelOffset":12,"symbolOffset":5,"rowPadding":3,"labelExpr":"datum.label+'  '"}}}}
]},
{"width":8,"height":115,"encoding":{"x":{"field":"x","type":"quantitative","scale":{"domain":[0,1],"nice":false},"axis":null},"y":{"field":"y","type":"quantitative","scale":{"domain":[-5.94,7.94],"nice":false},"axis":{"orient":"right","title":null,"labelFontSize":4,"tickSize":1.5,"labelPadding":1,"labelColor":"#555","grid":false,"values":[-8,-6,-4,-2,0,2,4,6,8,10]}}},
"layer":[
{"data":{"name":"cb"},"mark":{"type":"rect","width":8,"height":4.8},"encoding":{"fill":{"field":"z","type":"quantitative","scale":{"domain":[-8,-5.75,-3.5,-1.25,1,3.25,5.5,7.75,10],"range":["#ffffe5","#fff7bc","#fee391","#fec44f","#fe9929","#ec7014","#cc4c02","#993404","#662506"]},"legend":null}}},
{"data":{"name":"cbTop"},"mark":{"type":"line","fill":"#662506","stroke":"#662506"},"encoding":{"order":{"field":"o"}}},
{"data":{"name":"cbBot"},"mark":{"type":"line","fill":"#ffffe5","stroke":"#888","strokeWidth":0.5},"encoding":{"order":{"field":"o"}}},
{"data":{"name":"cbOut"},"mark":{"type":"line","stroke":"#888","strokeWidth":0.5},"encoding":{"order":{"field":"o"}}}
]},
{"width":133,"height":115,"view":{"stroke":"#aaa"},"encoding":{"x":{"field":"x","type":"quantitative","scale":{"domain":[0,216],"nice":false},"axis":{"title":"X [CM]","values":[0,12.5,25,37.5,50,62.5,75,87.5,100,112.5,125,137.5,150,162.5,175,187.5,200,212.5],"labelExpr":"datum.value%50==0?datum.value:''","gridColor":{"condition":{"test":"datum.value%50==0","value":"#9a8c70"},"value":"#a89c80"},"gridOpacity":{"condition":{"test":"datum.value%50==0","value":1},"value":0.3},"gridWidth":{"condition":{"test":"datum.value%50==0","value":0.9},"value":0.5},"tickOpacity":{"condition":{"test":"datum.value%50==0","value":1},"value":0},"zindex":1}},"y":{"field":"y","type":"quantitative","scale":{"domain":[0,187],"nice":false},"axis":{"title":"Y [CM]","values":[0,12.5,25,37.5,50,62.5,75,87.5,100,112.5,125,137.5,150,162.5,175],"labelExpr":"datum.value%50==0?datum.value:''","gridColor":{"condition":{"test":"datum.value%50==0","value":"#9a8c70"},"value":"#a89c80"},"gridOpacity":{"condition":{"test":"datum.value%50==0","value":1},"value":0.3},"gridWidth":{"condition":{"test":"datum.value%50==0","value":0.9},"value":0.5},"tickOpacity":{"condition":{"test":"datum.value%50==0","value":1},"value":0},"zindex":1}}},
"layer":[
{"data":{"name":"heatB"},"mark":{"type":"rect","width":8,"height":8,"clip":true},"encoding":{"fill":{"field":"z","type":"quantitative","scale":{"domain":[-8,-5.75,-3.5,-1.25,1,3.25,5.5,7.75,10],"range":["#ffffe5","#fff7bc","#fee391","#fec44f","#fe9929","#ec7014","#cc4c02","#993404","#662506"]},"legend":null}}},
{"data":{"name":"boxB"},"mark":{"type":"line","fill":"#ffffff","stroke":"#111","strokeWidth":1.1},"encoding":{"detail":{"field":"i"},"order":{"field":"o"}}},
{"data":{"name":"ctrB"},"mark":{"type":"line","stroke":"#000","strokeWidth":1.2,"interpolate":"catmull-rom"},"encoding":{"detail":{"field":"i"},"order":{"field":"o"}}},
{"data":{"values":[{"k":"P","x":73,"y":29},{"k":"S","x":34,"y":44}]},"mark":{"type":"point","filled":true,"size":40,"opacity":1},"encoding":{"color":{"field":"k","type":"nominal","scale":{"domain":["P","S"],"range":["#008000","#ff0000"]},"legend":{"title":null,"orient":"top-right","offset":5,"fillColor":"rgba(255,255,255,0.85)","cornerRadius":2,"padding":3,"labelFontSize":8,"labelColor":"#333","symbolSize":40,"symbolType":"circle","labelOffset":12,"symbolOffset":5,"rowPadding":3,"labelExpr":"datum.label+'  '"}}}},
{"data":{"values":[{"x":16,"y":-81,"t":"(a)"}]},"mark":{"type":"text","align":"left","baseline":"middle","font":"Liberation Serif","fontSize":21,"color":"#222"},"encoding":{"text":{"field":"t"}}},
{"data":{"values":[{"x":66,"y":-81,"t":"Baseline"}]},"mark":{"type":"text","align":"left","baseline":"middle","font":"Liberation Serif","fontStyle":"italic","fontSize":21,"color":"#222"},"encoding":{"text":{"field":"t"}}}
]},
{"width":79,"height":115,"encoding":{"x":{"field":"x","type":"quantitative","scale":{"domain":[0,9.875],"nice":false},"axis":null},"y":{"field":"y","type":"quantitative","scale":{"domain":[-5.94,7.94],"nice":false},"axis":{"orient":"right","offset":-71,"title":"Z CM","titleAngle":270,"titleFontSize":4,"titlePadding":2,"labelFontSize":4,"tickSize":1.5,"labelPadding":1,"labelColor":"#555","titleColor":"#555","grid":false,"values":[-8,-6,-4,-2,0,2,4,6,8,10]}}},
"layer":[
{"data":{"name":"cb"},"mark":{"type":"rect","width":8,"height":4.8},"encoding":{"fill":{"field":"z","type":"quantitative","scale":{"domain":[-8,-5.75,-3.5,-1.25,1,3.25,5.5,7.75,10],"range":["#ffffe5","#fff7bc","#fee391","#fec44f","#fe9929","#ec7014","#cc4c02","#993404","#662506"]},"legend":null}}},
{"data":{"name":"cbTop"},"mark":{"type":"line","fill":"#662506","stroke":"#662506"},"encoding":{"order":{"field":"o"}}},
{"data":{"name":"cbBot"},"mark":{"type":"line","fill":"#ffffe5","stroke":"#888","strokeWidth":0.5},"encoding":{"order":{"field":"o"}}},
{"data":{"name":"cbOut"},"mark":{"type":"line","stroke":"#888","strokeWidth":0.5},"encoding":{"order":{"field":"o"}}}
]},
{"width":133,"height":115,"view":{"stroke":"#aaa"},"encoding":{"x":{"field":"x","type":"quantitative","scale":{"domain":[0,216],"nice":false},"axis":{"title":"X [CM]","values":[0,12.5,25,37.5,50,62.5,75,87.5,100,112.5,125,137.5,150,162.5,175,187.5,200,212.5],"labelExpr":"datum.value%50==0?datum.value:''","gridColor":{"condition":{"test":"datum.value%50==0","value":"#9a8c70"},"value":"#a89c80"},"gridOpacity":{"condition":{"test":"datum.value%50==0","value":1},"value":0.3},"gridWidth":{"condition":{"test":"datum.value%50==0","value":0.9},"value":0.5},"tickOpacity":{"condition":{"test":"datum.value%50==0","value":1},"value":0},"zindex":1}},"y":{"field":"y","type":"quantitative","scale":{"domain":[0,187],"nice":false},"axis":{"title":"Y [CM]","values":[0,12.5,25,37.5,50,62.5,75,87.5,100,112.5,125,137.5,150,162.5,175],"labelExpr":"datum.value%50==0?datum.value:''","gridColor":{"condition":{"test":"datum.value%50==0","value":"#9a8c70"},"value":"#a89c80"},"gridOpacity":{"condition":{"test":"datum.value%50==0","value":1},"value":0.3},"gridWidth":{"condition":{"test":"datum.value%50==0","value":0.9},"value":0.5},"tickOpacity":{"condition":{"test":"datum.value%50==0","value":1},"value":0},"zindex":1}}},
"layer":[
{"data":{"name":"heatB"},"mark":{"type":"rect","width":8,"height":8,"clip":true},"encoding":{"fill":{"field":"z","type":"quantitative","scale":{"domain":[-8,-5.75,-3.5,-1.25,1,3.25,5.5,7.75,10],"range":["#ffffe5","#fff7bc","#fee391","#fec44f","#fe9929","#ec7014","#cc4c02","#993404","#662506"]},"legend":null}}},
{"data":{"name":"boxB"},"mark":{"type":"line","fill":"#ffffff","stroke":"#111","strokeWidth":1.1},"encoding":{"detail":{"field":"i"},"order":{"field":"o"}}},
{"data":{"name":"ctrB"},"mark":{"type":"line","stroke":"#000","strokeWidth":1.2,"interpolate":"catmull-rom"},"encoding":{"detail":{"field":"i"},"order":{"field":"o"}}},
{"data":{"values":[{"k":"P","x":96,"y":77},{"k":"S","x":77,"y":71}]},"mark":{"type":"point","filled":true,"size":40,"opacity":1},"encoding":{"color":{"field":"k","type":"nominal","scale":{"domain":["P","S"],"range":["#008000","#ff0000"]},"legend":{"title":null,"orient":"top-right","offset":5,"fillColor":"rgba(255,255,255,0.85)","cornerRadius":2,"padding":3,"labelFontSize":8,"labelColor":"#333","symbolSize":40,"symbolType":"circle","labelOffset":12,"symbolOffset":5,"rowPadding":3,"labelExpr":"datum.label+'  '"}}}},
{"data":{"values":[{"x":93,"y":-81,"t":"(b) BC"}]},"mark":{"type":"text","align":"center","baseline":"middle","font":"Liberation Serif","fontSize":21,"color":"#222"},"encoding":{"text":{"field":"t"}}}
]},
{"width":79,"height":115,"encoding":{"x":{"field":"x","type":"quantitative","scale":{"domain":[0,9.875],"nice":false},"axis":null},"y":{"field":"y","type":"quantitative","scale":{"domain":[-5.94,7.94],"nice":false},"axis":{"orient":"right","offset":-71,"title":"Z CM","titleAngle":270,"titleFontSize":4,"titlePadding":2,"labelFontSize":4,"tickSize":1.5,"labelPadding":1,"labelColor":"#555","titleColor":"#555","grid":false,"values":[-8,-6,-4,-2,0,2,4,6,8,10]}}},
"layer":[
{"data":{"name":"cb"},"mark":{"type":"rect","width":8,"height":4.8},"encoding":{"fill":{"field":"z","type":"quantitative","scale":{"domain":[-8,-5.75,-3.5,-1.25,1,3.25,5.5,7.75,10],"range":["#ffffe5","#fff7bc","#fee391","#fec44f","#fe9929","#ec7014","#cc4c02","#993404","#662506"]},"legend":null}}},
{"data":{"name":"cbTop"},"mark":{"type":"line","fill":"#662506","stroke":"#662506"},"encoding":{"order":{"field":"o"}}},
{"data":{"name":"cbBot"},"mark":{"type":"line","fill":"#ffffe5","stroke":"#888","strokeWidth":0.5},"encoding":{"order":{"field":"o"}}},
{"data":{"name":"cbOut"},"mark":{"type":"line","stroke":"#888","strokeWidth":0.5},"encoding":{"order":{"field":"o"}}}
]},
{"width":133,"height":115,"view":{"stroke":"#aaa"},"encoding":{"x":{"field":"x","type":"quantitative","scale":{"domain":[0,216],"nice":false},"axis":{"title":"X [CM]","values":[0,12.5,25,37.5,50,62.5,75,87.5,100,112.5,125,137.5,150,162.5,175,187.5,200,212.5],"labelExpr":"datum.value%50==0?datum.value:''","gridColor":{"condition":{"test":"datum.value%50==0","value":"#9a8c70"},"value":"#a89c80"},"gridOpacity":{"condition":{"test":"datum.value%50==0","value":1},"value":0.3},"gridWidth":{"condition":{"test":"datum.value%50==0","value":0.9},"value":0.5},"tickOpacity":{"condition":{"test":"datum.value%50==0","value":1},"value":0},"zindex":1}},"y":{"field":"y","type":"quantitative","scale":{"domain":[0,187],"nice":false},"axis":{"title":"Y [CM]","values":[0,12.5,25,37.5,50,62.5,75,87.5,100,112.5,125,137.5,150,162.5,175],"labelExpr":"datum.value%50==0?datum.value:''","gridColor":{"condition":{"test":"datum.value%50==0","value":"#9a8c70"},"value":"#a89c80"},"gridOpacity":{"condition":{"test":"datum.value%50==0","value":1},"value":0.3},"gridWidth":{"condition":{"test":"datum.value%50==0","value":0.9},"value":0.5},"tickOpacity":{"condition":{"test":"datum.value%50==0","value":1},"value":0},"zindex":1}}},
"layer":[
{"data":{"name":"heatB"},"mark":{"type":"rect","width":8,"height":8,"clip":true},"encoding":{"fill":{"field":"z","type":"quantitative","scale":{"domain":[-8,-5.75,-3.5,-1.25,1,3.25,5.5,7.75,10],"range":["#ffffe5","#fff7bc","#fee391","#fec44f","#fe9929","#ec7014","#cc4c02","#993404","#662506"]},"legend":null}}},
{"data":{"name":"boxB"},"mark":{"type":"line","fill":"#ffffff","stroke":"#111","strokeWidth":1.1},"encoding":{"detail":{"field":"i"},"order":{"field":"o"}}},
{"data":{"name":"ctrB"},"mark":{"type":"line","stroke":"#000","strokeWidth":1.2,"interpolate":"catmull-rom"},"encoding":{"detail":{"field":"i"},"order":{"field":"o"}}},
{"data":{"values":[{"k":"P","x":159,"y":52},{"k":"S","x":78,"y":74}]},"mark":{"type":"point","filled":true,"size":40,"opacity":1},"encoding":{"color":{"field":"k","type":"nominal","scale":{"domain":["P","S"],"range":["#008000","#ff0000"]},"legend":{"title":null,"orient":"top-right","offset":5,"fillColor":"rgba(255,255,255,0.85)","cornerRadius":2,"padding":3,"labelFontSize":8,"labelColor":"#333","symbolSize":40,"symbolType":"circle","labelOffset":12,"symbolOffset":5,"rowPadding":3,"labelExpr":"datum.label+'  '"}}}},
{"data":{"values":[{"x":101,"y":-81,"t":"(c) Privileged BC"}]},"mark":{"type":"text","align":"center","baseline":"middle","font":"Liberation Serif","fontSize":21,"color":"#222"},"encoding":{"text":{"field":"t"}}}
]},
{"width":8,"height":115,"encoding":{"x":{"field":"x","type":"quantitative","scale":{"domain":[0,1],"nice":false},"axis":null},"y":{"field":"y","type":"quantitative","scale":{"domain":[-5.94,7.94],"nice":false},"axis":{"orient":"right","title":null,"labelFontSize":4,"tickSize":1.5,"labelPadding":1,"labelColor":"#555","grid":false,"values":[-8,-6,-4,-2,0,2,4,6,8,10]}}},
"layer":[
{"data":{"name":"cb"},"mark":{"type":"rect","width":8,"height":4.8},"encoding":{"fill":{"field":"z","type":"quantitative","scale":{"domain":[-8,-5.75,-3.5,-1.25,1,3.25,5.5,7.75,10],"range":["#ffffe5","#fff7bc","#fee391","#fec44f","#fe9929","#ec7014","#cc4c02","#993404","#662506"]},"legend":null}}},
{"data":{"name":"cbTop"},"mark":{"type":"line","fill":"#662506","stroke":"#662506"},"encoding":{"order":{"field":"o"}}},
{"data":{"name":"cbBot"},"mark":{"type":"line","fill":"#ffffe5","stroke":"#888","strokeWidth":0.5},"encoding":{"order":{"field":"o"}}},
{"data":{"name":"cbOut"},"mark":{"type":"line","stroke":"#888","strokeWidth":0.5},"encoding":{"order":{"field":"o"}}}
]}
]}
